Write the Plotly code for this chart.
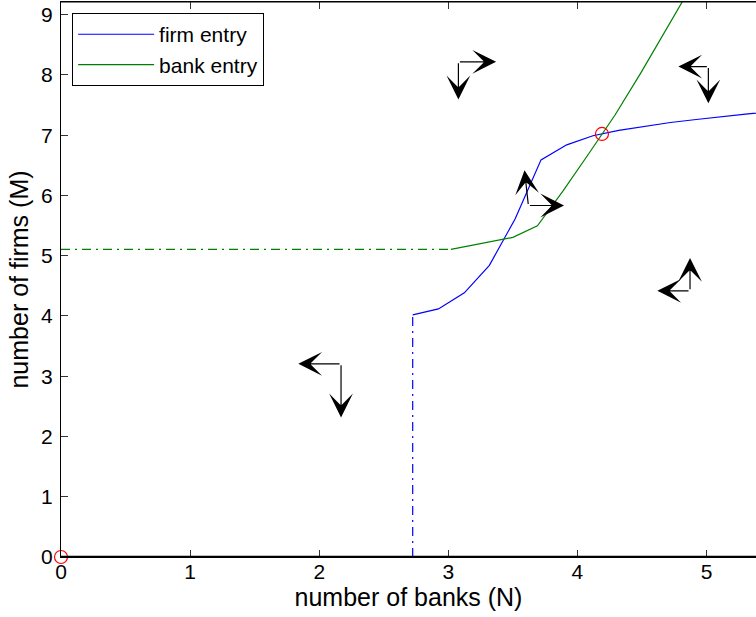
import plotly.graph_objects as go

# ---- data ----
firm_x = [2.724, 2.923, 3.124, 3.318, 3.517, 3.718, 3.917, 4.12, 4.32, 4.52, 4.72, 4.92, 5.12, 5.32, 5.52]
firm_y = [4.017, 4.117, 4.383, 4.84, 5.61, 6.59, 6.84, 6.99, 7.08, 7.15, 7.21, 7.26, 7.31, 7.355, 7.39]
firm_dash_x = [2.724, 2.724]
firm_dash_y = [0.0, 4.017]

bank_x = [3.02, 3.50, 3.69, 3.89, 4.09, 4.29, 4.49, 4.69, 4.89]
bank_y = [5.105, 5.305, 5.495, 6.08, 6.70, 7.33, 8.03, 8.77, 9.50]
bank_dash_x = [0.0, 3.02]
bank_dash_y = [5.105, 5.105]

eq_x = [0.0, 4.19]
eq_y = [0.0, 7.02]

# arrows: (tail_x, tail_y, head_x, head_y)
arrow_tail_x = [2.169, 2.169, 3.078, 3.078, 5.014, 5.014, 3.62, 3.62, 4.872, 4.872]
arrow_tail_y = [3.205, 3.205, 8.217, 8.217, 8.138, 8.138, 5.833, 5.833, 4.417, 4.417]
arrow_head_x = [1.838, 2.169, 3.37, 3.078, 4.782, 5.014, 3.59, 3.896, 4.619, 4.872]
arrow_head_y = [3.205, 2.317, 8.217, 7.594, 8.138, 7.528, 6.417, 5.833, 4.417, 4.962]

x_ticks = [0, 1, 2, 3, 4, 5]
y_ticks = [0, 1, 2, 3, 4, 5, 6, 7, 8, 9]

FONT = "Liberation Sans, Arial, sans-serif"
BLUE = "#0000ff"
GREEN = "#008000"
DASHDOT = "9px,5px,2px,5px"

fig = go.Figure()
fig.add_trace(go.Scatter(x=firm_x, y=firm_y, mode="lines", name="firm entry",
                         line=dict(color=BLUE, width=1.2)))
fig.add_trace(go.Scatter(x=bank_x, y=bank_y, mode="lines", name="bank entry",
                         line=dict(color=GREEN, width=1.2)))
fig.add_trace(go.Scatter(x=firm_dash_x, y=firm_dash_y, mode="lines", showlegend=False,
                         line=dict(color=BLUE, width=1.2, dash=DASHDOT)))
fig.add_trace(go.Scatter(x=bank_dash_x, y=bank_dash_y, mode="lines", showlegend=False,
                         line=dict(color=GREEN, width=1.2, dash=DASHDOT)))
fig.add_trace(go.Scatter(x=eq_x, y=eq_y, mode="markers", showlegend=False, cliponaxis=False,
                         marker=dict(symbol="circle-open", size=13, color="#ff0000",
                                     line=dict(width=1.2, color="#ff0000"))))

for tx, ty, hx, hy in zip(arrow_tail_x, arrow_tail_y, arrow_head_x, arrow_head_y):
    fig.add_annotation(x=hx, y=hy, ax=tx, ay=ty, xref="x", yref="y", axref="x", ayref="y",
                       text="", showarrow=True, arrowhead=3, arrowsize=3.3,
                       arrowwidth=1.2, arrowcolor="#000000")

fig.add_shape(type="line", xref="paper", yref="y", x0=0, x1=1, y0=0, y1=0,
              line=dict(color="#000000", width=2.5))
fig.add_shape(type="line", xref="paper", yref="paper", x0=0, x1=1, y0=1, y1=1,
              line=dict(color="#000000", width=1))

fig.update_layout(
    width=756, height=617,
    margin=dict(l=61, r=0, t=2, b=60),
    paper_bgcolor="white", plot_bgcolor="white",
    font=dict(family=FONT, size=21, color="#000000"),
    showlegend=True,
    legend=dict(x=0.016, y=0.98, xanchor="left", yanchor="top",
                bgcolor="white", bordercolor="#000000", borderwidth=1,
                font=dict(family=FONT, size=21), itemwidth=76,
                tracegroupgap=0),
    xaxis=dict(range=[0, 5.383], tickvals=x_ticks, ticks="inside", ticklen=7,
               tickcolor="#333333", showline=True, linecolor="#000000", linewidth=1,
               mirror="ticks", showgrid=False, zeroline=False,
               title=dict(text="number of banks (N)", standoff=4),
               tickfont=dict(size=21), ticklabelstandoff=-4),
    yaxis=dict(range=[0, 9.21], tickvals=y_ticks, ticks="inside", ticklen=7,
               tickcolor="#333333", showline=True, linecolor="#000000", linewidth=1,
               mirror=False, showgrid=False, zeroline=False,
               title=dict(text="number of firms (M)", standoff=5),
               tickfont=dict(size=21), ticklabelstandoff=3),
)

fig.write_html("out.html", config={"displayModeBar": False},
               post_script="document.body.style.margin='0';")
